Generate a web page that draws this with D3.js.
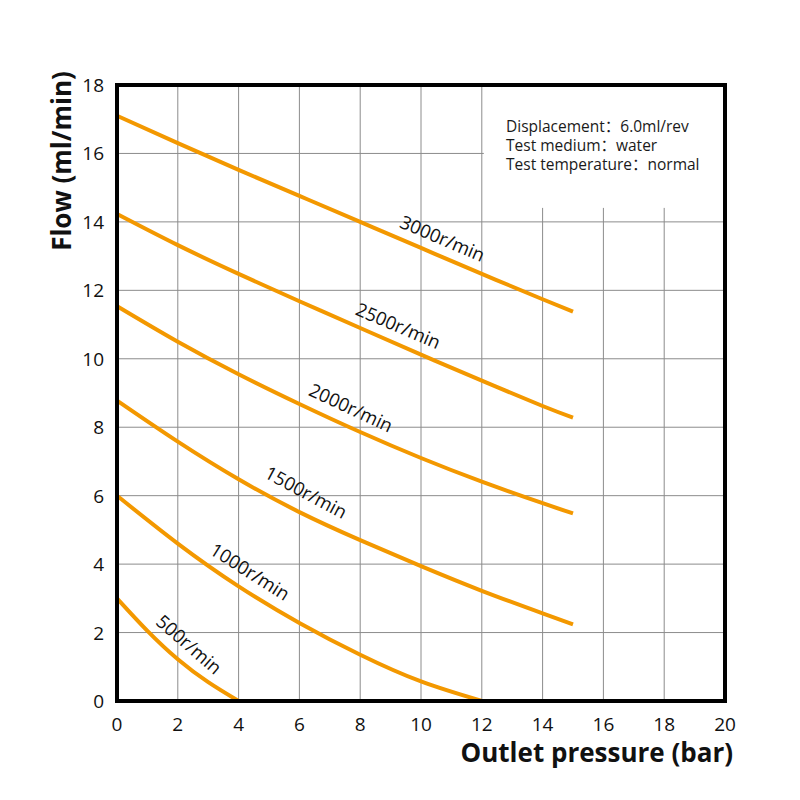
<!DOCTYPE html>
<html>
<head>
<meta charset="utf-8">
<script src="https://cdn.jsdelivr.net/npm/d3@7"></script>
<style>
  body { margin: 0; background: #fff; }
  text { font-family: "Open Sans", sans-serif; fill: #111; }
</style>
</head>
<body>
<script>
// pump curves: flow (ml/min) vs outlet pressure (bar)
var speeds = ["500r/min", "1000r/min", "1500r/min", "2000r/min", "2500r/min", "3000r/min"];

var p500 = [0, 1, 2, 3, 4];
var q500 = [3.0, 2.05, 1.22, 0.55, 0];

var p1000 = [0, 2, 4, 6, 8, 10, 12];
var q1000 = [6.0, 4.6, 3.35, 2.28, 1.35, 0.57, 0];

var pHigh = [0, 2, 4, 6, 8, 10, 12, 14, 15];
var q1500 = [8.78, 7.58, 6.48, 5.52, 4.7, 3.94, 3.22, 2.56, 2.24];
var q2000 = [11.54, 10.5, 9.55, 8.68, 7.86, 7.1, 6.41, 5.78, 5.48];
var q2500 = [14.23, 13.32, 12.48, 11.68, 10.9, 10.12, 9.36, 8.62, 8.28];
var q3000 = [17.1, 16.3, 15.52, 14.76, 14.0, 13.24, 12.48, 11.74, 11.38];

var xTicks = [0, 2, 4, 6, 8, 10, 12, 14, 16, 18, 20];
var yTicks = [0, 2, 4, 6, 8, 10, 12, 14, 16, 18];

var notes = ["Displacement\uff1a6.0ml/rev", "Test medium\uff1awater", "Test temperature\uff1anormal"];

// where the speed labels sit (in data units) and their tilt
var labelAt = [[2.39, 1.67, 41], [4.39, 3.8, 32.5], [6.23, 6.12, 28], [7.71, 8.59, 25], [9.26, 10.99, 23], [10.72, 13.54, 23]];

var series = [
  {p: p500, q: q500},
  {p: p1000, q: q1000},
  {p: pHigh, q: q1500},
  {p: pHigh, q: q2000},
  {p: pHigh, q: q2500},
  {p: pHigh, q: q3000}
];

var width = 800, height = 800;
var plotL = 117, plotR = 725, plotT = 85, plotB = 701;

var svg = d3.select("body").append("svg")
    .attr("width", width)
    .attr("height", height);

var x = d3.scaleLinear().domain([0, 20]).range([plotL, plotR]);
var y = d3.scaleLinear().domain([0, 18]).range([plotB, plotT]);

// grid
svg.append("g")
    .selectAll("line")
    .data(xTicks.slice(1, -1))
    .enter().append("line")
    .attr("x1", function(d) { return x(d); })
    .attr("x2", function(d) { return x(d); })
    .attr("y1", plotT)
    .attr("y2", plotB)
    .attr("stroke", "#8c8c8c")
    .attr("stroke-width", 1);

svg.append("g")
    .selectAll("line")
    .data(yTicks.slice(1, -1))
    .enter().append("line")
    .attr("x1", plotL)
    .attr("x2", plotR)
    .attr("y1", function(d) { return y(d); })
    .attr("y2", function(d) { return y(d); })
    .attr("stroke", "#8c8c8c")
    .attr("stroke-width", 1);

// blank box behind the notes
svg.append("rect")
    .attr("x", x(12) + 2)
    .attr("y", plotT)
    .attr("width", plotR - x(12) - 2)
    .attr("height", y(14) - plotT - 14)
    .attr("fill", "#fff");

svg.append("g")
    .selectAll("text")
    .data(notes)
    .enter().append("text")
    .attr("x", 506)
    .attr("y", function(d, i) { return 132 + i * 19; })
    .attr("font-size", 15.5)
    .style("font-family", "'Open Sans', 'Noto Sans CJK SC', sans-serif")
    .style("fill", "#1a1a1a")
    .text(function(d) { return d; });

// curves
var line = d3.line()
    .x(function(d) { return x(d[0]); })
    .y(function(d) { return y(d[1]); })
    .curve(d3.curveNatural);

svg.append("g")
    .selectAll("path")
    .data(series)
    .enter().append("path")
    .attr("d", function(s) { return line(d3.zip(s.p, s.q)); })
    .attr("fill", "none")
    .attr("stroke", "#f39800")
    .attr("stroke-width", 4);

// speed labels
svg.append("g")
    .selectAll("text")
    .data(speeds)
    .enter().append("text")
    .attr("transform", function(d, i) {
      var a = labelAt[i];
      return "translate(" + x(a[0]) + "," + y(a[1]) + ") rotate(" + a[2] + ")";
    })
    .attr("text-anchor", "middle")
    .attr("dominant-baseline", "central")
    .attr("font-size", 18.5)
    .text(function(d) { return d; });

// frame
svg.append("rect")
    .attr("x", plotL)
    .attr("y", plotT)
    .attr("width", plotR - plotL)
    .attr("height", plotB - plotT)
    .attr("fill", "none")
    .attr("stroke", "#000")
    .attr("stroke-width", 4);

// tick labels
svg.append("g")
    .selectAll("text")
    .data(xTicks)
    .enter().append("text")
    .attr("x", function(d) { return x(d); })
    .attr("y", 724)
    .attr("text-anchor", "middle")
    .attr("dominant-baseline", "central")
    .attr("font-size", 19)
    .text(function(d) { return d; });

svg.append("g")
    .selectAll("text")
    .data(yTicks)
    .enter().append("text")
    .attr("x", 104)
    .attr("y", function(d) { return y(d); })
    .attr("text-anchor", "end")
    .attr("dominant-baseline", "central")
    .attr("font-size", 19)
    .text(function(d) { return d; });

// axis titles
svg.append("text")
    .attr("x", 733)
    .attr("y", 762)
    .attr("text-anchor", "end")
    .attr("font-size", 26)
    .attr("font-weight", "bold")
    .text("Outlet pressure (bar)");

svg.append("text")
    .attr("transform", "translate(71,161) rotate(-90)")
    .attr("text-anchor", "middle")
    .attr("font-size", 26)
    .attr("font-weight", "bold")
    .text("Flow (ml/min)");
</script>
</body>
</html>
